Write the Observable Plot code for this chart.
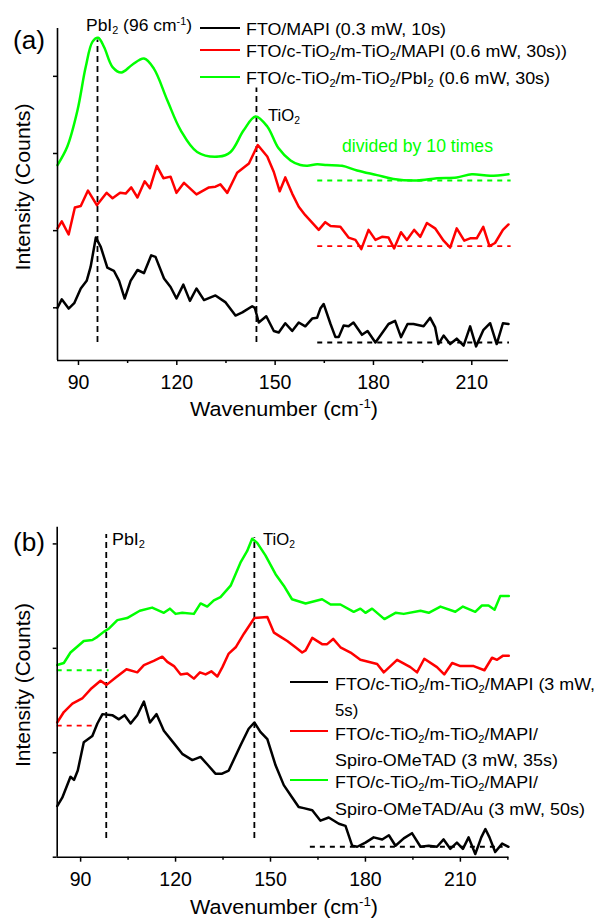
<!DOCTYPE html>
<html><head><meta charset="utf-8">
<script src="https://cdn.jsdelivr.net/npm/d3@7"></script>
<script src="https://cdn.jsdelivr.net/npm/@observablehq/plot@0.6"></script>
<style>
html,body{margin:0;padding:0;background:#fff;}
#wrap{position:relative;width:598px;height:918px;overflow:hidden;font-family:"Liberation Sans",Arial,Helvetica,sans-serif;color:#000;background:#fff;}
#wrap svg{position:absolute;left:0;}
.t{position:absolute;white-space:nowrap;line-height:1;}
.t sub,.t sup{font-size:0.62em;line-height:0;}
.t sub{vertical-align:-0.32em;}
.t sup{vertical-align:0.6em;}
.sw{position:absolute;height:0;border-top:2.5px solid;}
</style></head><body><div id="wrap"></div>
<script>
// ---------- Panel (a) data ----------
const aBlackX = [83.6,84.9,87.0,88.7,90.7,92.5,93.7,95.3,96.8,98.8,100.8,102.4,104.1,105.9,108.0,110.0,112.2,113.5,116.1,118.1,119.9,122.0,124.0,126.0,128.3,131.8,134.9,137.9,140.0,143.0,143.8,145.0,147.3,149.6,151.1,153.1,155.2,157.2,159.2,161.3,162.8,163.8,164.8,166.9,168.4,169.4,170.9,172.4,173.9,176.5,178.2,180.6,184.6,186.6,188.4,190.4,192.2,195.3,197.3,198.8,199.8,201.4,203.4,205.4,207.5,209.5,211.3,213.5,215.6,217.6,219.5,221.2];
const aBlackY = [1.00,1.11,0.99,1.06,1.25,1.35,1.53,1.91,1.79,1.52,1.48,1.35,1.12,1.35,1.49,1.45,1.68,1.66,1.38,1.27,1.12,1.30,1.09,1.25,1.10,1.16,1.07,0.90,0.94,1.02,1.00,0.81,0.89,0.70,0.68,0.80,0.70,0.81,0.76,0.86,0.87,0.99,1.05,0.79,0.62,0.62,0.77,0.76,0.81,0.65,0.70,0.55,0.79,0.83,0.62,0.79,0.79,0.76,0.87,0.75,0.53,0.64,0.53,0.60,0.51,0.76,0.50,0.71,0.80,0.53,0.80,0.79];
const aRedX = [83.6,84.9,87.0,88.9,90.7,92.9,95.6,98.6,100.4,102.7,104.4,106.1,108.0,110.2,111.8,113.9,115.9,118.1,119.9,122.2,126.0,129.8,131.8,133.3,135.4,138.4,142.0,144.7,147.6,149.6,151.4,153.1,155.2,157.2,159.2,163.3,165.3,166.9,169.9,172.4,174.5,176.3,178.5,180.6,182.6,184.6,186.3,188.4,190.2,192.4,194.3,196.3,198.8,201.4,203.4,205.4,207.7,209.5,211.5,213.5,215.4,217.1,219.5,221.2];
const aRedY = [2.03,2.12,1.95,2.30,2.32,2.52,2.33,2.49,2.42,2.49,2.48,2.56,2.43,2.64,2.55,2.84,2.68,2.70,2.49,2.62,2.47,2.56,2.57,2.60,2.49,2.75,2.87,3.11,2.96,2.76,2.51,2.69,2.48,2.31,2.20,2.01,2.11,2.06,2.05,1.91,1.88,1.76,2.01,1.88,1.92,1.91,1.77,1.98,1.88,2.01,1.92,2.10,2.03,1.87,1.78,2.03,1.87,1.90,1.90,2.05,1.80,1.84,2.01,2.08];
const aGreenX = [83.6,86.6,89.7,92.2,94.3,96.0,97.8,100.4,103.1,106.4,110.0,113.0,117.1,121.2,126.2,132.8,136.4,140.4,144.0,147.6,151.0,154.7,157.7,159.8,162.8,165.8,170.4,175.0,181.1,186.1,193.3,199.4,205.4,210.0,215.6,221.2];
const aGreenY = [2.85,3.09,3.56,4.12,4.45,4.50,4.38,4.12,4.05,4.15,4.23,4.10,3.69,3.30,3.02,2.96,3.02,3.30,3.48,3.35,3.07,2.91,2.85,2.84,2.86,2.85,2.84,2.78,2.72,2.67,2.65,2.68,2.69,2.73,2.71,2.73];
// peak markers (wavenumber, top, bottom) and baselines (level, from, to)
const aPeakX = [95.8, 144.3];
const aPeakTop = [4.47, 3.85];
const aPeakBottom = [0.55, 0.55];
const aBaseLevel = [0.55, 1.80, 2.65];
const aBaseFrom = [163, 163, 163];
const aBaseTo = [221.5, 222, 222];
const aXDomain = [83.6, 221.2];
const aYDomain = [0.317, 4.62];

// ---------- Panel (b) data ----------
const bBlackX = [82.6,84.2,86.8,87.9,89.1,91.0,93.7,95.3,96.9,100.0,102.1,103.9,105.8,107.9,110.0,111.9,114.0,116.3,119.5,122.1,125.3,127.9,130.0,132.6,134.7,136.8,140.5,143.1,144.9,146.8,149.0,151.6,154.2,156.9,158.9,160.5,163.2,165.8,168.4,171.6,173.7,175.8,177.4,180.0,182.6,185.3,187.4,189.5,192.1,194.7,197.4,200.0,202.6,204.7,206.8,208.9,210.8,212.6,214.7,216.6,217.9,219.2,221.0,223.2,225.2];
const bBlackY = [0.49,0.57,0.77,0.74,0.83,1.10,1.16,1.28,1.37,1.36,1.32,1.36,1.28,1.36,1.49,1.29,1.37,1.21,1.09,0.99,0.93,0.96,0.89,0.80,0.80,0.83,1.07,1.23,1.29,1.20,1.13,0.88,0.69,0.57,0.48,0.47,0.45,0.35,0.38,0.32,0.30,0.11,0.10,0.14,0.19,0.17,0.21,0.11,0.18,0.23,0.10,0.11,0.10,0.17,0.08,0.14,0.08,0.19,0.03,0.19,0.27,0.19,0.05,0.13,0.10];
const bRedX = [82.6,84.7,87.4,90.5,93.2,96.3,98.2,101.1,104.5,107.9,110.0,113.1,115.8,117.4,119.5,121.6,123.7,125.8,127.7,129.5,131.3,133.2,134.8,136.8,139.0,141.6,144.9,149.0,151.1,153.2,155.3,157.9,160.0,161.1,163.2,166.3,167.9,169.8,172.1,175.3,178.4,183.7,185.8,190.0,194.2,196.3,198.6,202.6,204.9,207.4,210.0,214.2,217.6,220.0,221.6,223.5,225.3];
const bRedY = [1.29,1.39,1.47,1.52,1.61,1.69,1.65,1.72,1.80,1.77,1.84,1.88,1.92,1.87,1.83,1.75,1.76,1.71,1.77,1.75,1.78,1.73,1.82,1.95,2.01,2.14,2.29,2.30,2.15,2.11,2.07,2.01,1.96,1.98,2.10,2.04,2.04,2.09,2.01,1.96,1.89,1.85,1.77,1.89,1.82,1.77,1.90,1.82,1.75,1.86,1.83,1.83,1.79,1.91,1.89,1.93,1.93];
const bGreenX = [82.6,84.7,86.8,91.0,93.7,95.3,97.4,99.0,101.6,104.7,108.7,112.6,116.3,118.2,120.0,122.1,125.8,127.9,130.0,132.1,134.2,137.4,140.5,142.6,144.2,145.8,148.4,151.6,154.2,156.8,161.1,166.3,169.0,172.1,176.3,178.4,180.0,182.1,186.0,189.5,192.1,197.4,200.0,203.7,208.4,210.8,214.7,216.8,218.9,220.8,222.6,225.3];
const bGreenY = [1.84,1.86,1.96,2.07,2.08,2.11,2.16,2.19,2.27,2.29,2.36,2.39,2.34,2.38,2.33,2.34,2.33,2.43,2.40,2.46,2.49,2.60,2.82,2.93,3.05,3.01,2.89,2.71,2.60,2.47,2.43,2.47,2.42,2.42,2.35,2.38,2.34,2.38,2.28,2.34,2.33,2.36,2.34,2.40,2.35,2.40,2.35,2.41,2.41,2.37,2.50,2.50];
const bPeakX = [98.1, 144.9];
const bPeakTop = [3.09, 3.06];
const bPeakBottom = [0.18, 0.18];
const bBaseLevel = [0.10, 1.26, 1.79];
const bBaseFrom = [162.6, 82.6, 82.6];
const bBaseTo = [223.5, 95.3, 99.0];
const bXDomain = [82.6, 225.3];
const bYDomain = [0, 3.16];

const majorTicks = [90, 120, 150, 180, 210];
const minorTicksA = [105, 135, 165, 195];
const minorTicksB = [105, 135, 165, 195, 225];
const yTicksA = [1, 2, 3, 4];
const yTicksB = [0, 1, 2, 3];

const colors = ["#000000", "#ff0000", "#00ff00"];

const pts = (X, Y) => X.map((x, i) => ({x, y: Y[i]}));
const rows3 = (A, B, C) => A.map((v, i) => ({a: v, b: B[i], c: C[i], k: i}));

function panel(opts) {
  const {series, peaks, bases, xDomain, yDomain, minor, yTicks, margins, height, smoothLast} = opts;
  const marks = [
    Plot.ruleY(rows3(...bases), {y: "a", x1: "b", x2: "c", stroke: d => colors[d.k], strokeWidth: 1.8, strokeDasharray: "5,5"}),
    Plot.ruleX(rows3(...peaks), {x: "a", y1: "c", y2: "b", stroke: "#000", strokeWidth: 1.8, strokeDasharray: "6,4"}),
    ...series.map((s, i) => Plot.line(pts(s[0], s[1]), {x: "x", y: "y", stroke: colors[i], strokeWidth: 2.5,
      curve: (smoothLast && i === 2) ? "catmull-rom" : "linear", strokeLinejoin: "round"})),
    Plot.axisX({ticks: majorTicks, tickSize: 5, tickPadding: 10, strokeWidth: 1.5, label: null}),
    Plot.axisX({ticks: minor, tickSize: 3, strokeWidth: 1.5, tickFormat: () => "", label: null}),
    Plot.axisY({ticks: yTicks, tickSize: 4, strokeWidth: 1.5, tickFormat: () => "", label: null}),
    Plot.ruleX([xDomain[0]], {stroke: "#000", strokeWidth: 1.6}),
    Plot.ruleY([yDomain[0]], {stroke: "#000", strokeWidth: 1.6})
  ];
  return Plot.plot({
    width: 598, height,
    marginLeft: margins[0], marginRight: margins[1], marginTop: margins[2], marginBottom: margins[3],
    x: {domain: xDomain},
    y: {domain: yDomain},
    style: {background: "transparent", fontFamily: "'Liberation Sans', Arial, sans-serif", fontSize: "19.5px", color: "#000"},
    marks
  });
}

const wrap = document.getElementById("wrap");
const svgA = panel({
  series: [[aBlackX, aBlackY], [aRedX, aRedY], [aGreenX, aGreenY]],
  peaks: [aPeakX, aPeakTop, aPeakBottom],
  bases: [aBaseLevel, aBaseFrom, aBaseTo],
  xDomain: aXDomain, yDomain: aYDomain, minor: minorTicksA, yTicks: yTicksA,
  margins: [57, 90, 28, 100], height: 460, smoothLast: true
});
svgA.style.top = "0px";
wrap.appendChild(svgA);

const svgB = panel({
  series: [[bBlackX, bBlackY], [bRedX, bRedY], [bGreenX, bGreenY]],
  peaks: [bPeakX, bPeakTop, bPeakBottom],
  bases: [bBaseLevel, bBaseFrom, bBaseTo],
  xDomain: bXDomain, yDomain: bYDomain, minor: minorTicksB, yTicks: yTicksB,
  margins: [56.7, 89.7, 66.7, 61.3], height: 458, smoothLast: false
});
svgB.style.top = "460px";
wrap.appendChild(svgB);

// ---------- text & legends ----------
const ASC = 0.8465;
function fitWidth(d, w, base, origin) {
  if (!w) return;
  const r = d.getBoundingClientRect().width;
  if (r > 0) {
    d.style.transformOrigin = origin;
    d.style.transform = base + " scaleX(" + (w / r).toFixed(4) + ")";
  }
}
function txt(html, x, baseline, size, w, color) {
  const d = document.createElement("div");
  d.className = "t";
  d.innerHTML = html;
  d.style.left = x + "px";
  d.style.top = (baseline - ASC * size) + "px";
  d.style.fontSize = size + "px";
  if (color) d.style.color = color;
  wrap.appendChild(d);
  fitWidth(d, w, "", "0 50%");
  return d;
}
function centered(html, cx, baseline, size, w) {
  const d = document.createElement("div");
  d.className = "t";
  d.innerHTML = html;
  d.style.left = cx + "px";
  d.style.top = (baseline - ASC * size) + "px";
  d.style.fontSize = size + "px";
  wrap.appendChild(d);
  d.style.transform = "translateX(-50%)";
  fitWidth(d, w, "translateX(-50%)", "50% 50%");
}
function vtitle(html, cx, cy, size, len) {
  const d = document.createElement("div");
  d.className = "t";
  d.innerHTML = html;
  d.style.fontSize = size + "px";
  d.style.left = cx + "px";
  d.style.top = cy + "px";
  wrap.appendChild(d);
  const r = d.getBoundingClientRect().width;
  const k = r > 0 ? len / r : 1;
  d.style.transformOrigin = "50% 50%";
  d.style.transform = "translate(-50%,-50%) rotate(-90deg) scaleX(" + k.toFixed(4) + ")";
}
function swatch(x1, x2, y, color) {
  const d = document.createElement("div");
  d.className = "sw";
  d.style.left = x1 + "px";
  d.style.width = (x2 - x1) + "px";
  d.style.top = (y - 1.25) + "px";
  d.style.borderColor = color;
  wrap.appendChild(d);
}

const legendA = [
  "FTO/MAPI (0.3 mW, 10s)",
  "FTO/c-TiO<sub>2</sub>/m-TiO<sub>2</sub>/MAPI (0.6 mW, 30s))",
  "FTO/c-TiO<sub>2</sub>/m-TiO<sub>2</sub>/PbI<sub>2</sub> (0.6 mW, 30s)"
];
const legendB = [
  ["FTO/c-TiO<sub>2</sub>/m-TiO<sub>2</sub>/MAPI (3 mW,", "5s)"],
  ["FTO/c-TiO<sub>2</sub>/m-TiO<sub>2</sub>/MAPI/", "Spiro-OMeTAD (3 mW, 35s)"],
  ["FTO/c-TiO<sub>2</sub>/m-TiO<sub>2</sub>/MAPI/", "Spiro-OMeTAD/Au (3 mW, 50s)"]
];

// panel (a)
txt("(a)", 13, 49.5, 26, 32);
txt("PbI<sub>2</sub> (96 cm<sup>-1</sup>)", 86, 31.7, 17, 106);
txt("TiO<sub>2</sub>", 268, 121.7, 17, 32);
txt("divided by 10 times", 341.7, 153, 17.5, 151, colors[2]);
const legendAW = [200, 321, 304];
[[28.3, 35], [50.7, 57.3], [77.3, 84.3]].forEach(([ly, bl], i) => {
  swatch(200, 240, ly, colors[i]);
  txt(legendA[i], 246, bl, 17, legendAW[i]);
});
vtitle("Intensity (Counts)", 22, 186.7, 21, 167);
centered("Wavenumber (cm<sup>-1</sup>)", 284, 416, 20.5, 188);

// panel (b)
txt("(b)", 13, 551.5, 26, 32);
txt("PbI<sub>2</sub>", 111.7, 545, 17, 33);
txt("TiO<sub>2</sub>", 263.3, 545, 17, 32);
const legendBW = [[260, 23.3], [203, 223], [203, 250]];
[[682.7, 690, 716.7], [731.7, 740, 766], [780, 788, 815]].forEach(([ly, b1, b2], i) => {
  swatch(290, 328, ly, colors[i]);
  txt(legendB[i][0], 335, b1, 17, legendBW[i][0]);
  txt(legendB[i][1], 335, b2, 17, legendBW[i][1]);
});
vtitle("Intensity (Counts)", 22, 685, 21, 164);
centered("Wavenumber (cm<sup>-1</sup>)", 284, 914, 20.5, 188);
</script></body></html>
